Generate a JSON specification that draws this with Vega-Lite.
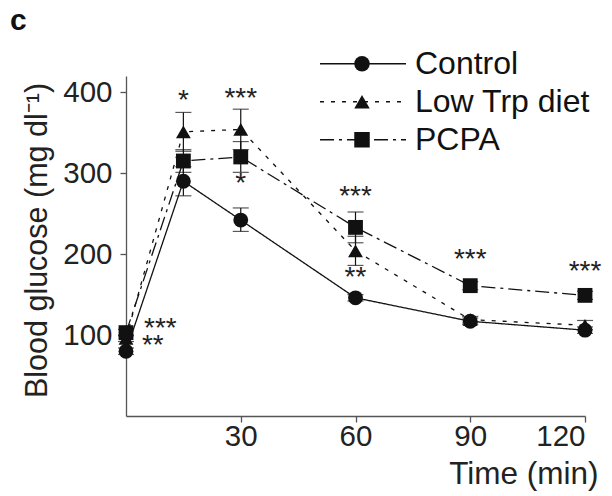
{
  "$schema": "https://vega.github.io/schema/vega-lite/v6.json",
  "width": 459,
  "height": 340,
  "autosize": {"type": "none"},
  "padding": {"left": 126, "top": 76, "right": 27, "bottom": 80},
  "background": "white",
  "config": {
    "view": {"stroke": null},
    "font": "Liberation Sans",
    "axis": {"grid": false, "domainColor": "#555", "tickColor": "#555", "domainWidth": 1.3, "tickWidth": 1.3, "tickSize": 6, "labelFontSize": 29.5, "titleFontSize": 30.5, "labelColor": "#222", "titleColor": "#222", "titleFontWeight": "normal", "labelFont": "Liberation Sans", "titleFont": "Liberation Sans"}
  },
  "title": {"text": "c", "anchor": "start", "frame": "group", "fontSize": 30, "fontWeight": "bold", "font": "Liberation Sans", "color": "#111", "dx": -116, "dy": -8},
  "datasets": {
    "glucose": [
      {"group": "Control", "t": 0, "value": 80, "lo": 76, "hi": 84},
      {"group": "Control", "t": 15, "value": 290, "lo": 272, "hi": 308},
      {"group": "Control", "t": 30, "value": 242, "lo": 228, "hi": 257},
      {"group": "Control", "t": 60, "value": 146, "lo": 142, "hi": 150},
      {"group": "Control", "t": 90, "value": 117, "lo": 113, "hi": 121},
      {"group": "Control", "t": 120, "value": 106, "lo": 102, "hi": 110},
      {"group": "Low Trp diet", "t": 0, "value": 96, "lo": 92, "hi": 100},
      {"group": "Low Trp diet", "t": 15, "value": 351, "lo": 327, "hi": 375},
      {"group": "Low Trp diet", "t": 30, "value": 354, "lo": 329, "hi": 379},
      {"group": "Low Trp diet", "t": 60, "value": 204, "lo": 186, "hi": 222},
      {"group": "Low Trp diet", "t": 90, "value": 119, "lo": 115, "hi": 123},
      {"group": "Low Trp diet", "t": 120, "value": 112, "lo": 107, "hi": 118},
      {"group": "PCPA", "t": 0, "value": 103, "lo": 99, "hi": 107},
      {"group": "PCPA", "t": 15, "value": 315, "lo": 301, "hi": 329},
      {"group": "PCPA", "t": 30, "value": 320, "lo": 301, "hi": 339},
      {"group": "PCPA", "t": 60, "value": 233, "lo": 214, "hi": 252},
      {"group": "PCPA", "t": 90, "value": 161, "lo": 156, "hi": 166},
      {"group": "PCPA", "t": 120, "value": 149, "lo": 144, "hi": 154}
    ],
    "stars": [
      {"t": 15, "value": 389, "label": "*"},
      {"t": 30, "value": 391, "label": "***"},
      {"t": 30, "value": 287, "label": "*"},
      {"t": 60, "value": 271, "label": "***"},
      {"t": 60, "value": 171, "label": "**"},
      {"t": 90, "value": 193, "label": "***"},
      {"t": 120, "value": 178, "label": "***"},
      {"t": 9, "value": 108, "label": "***"},
      {"t": 7, "value": 87, "label": "**"}
    ]
  },
  "layer": [
    {
      "data": {"name": "glucose"},
      "mark": {"type": "rule", "color": "#111", "strokeWidth": 1.2},
      "encoding": {
        "x": {"field": "t", "type": "quantitative", "scale": {"domain": [0, 120], "nice": false}, "axis": {"values": [30, 60, 90, 120], "title": "Time (min)", "titleFontSize": 31.5, "labelPadding": 0, "titleAnchor": "end", "titleAlign": "right", "titleX": 472, "titleY": 67, "titleBaseline": "alphabetic"}},
        "y": {"field": "lo", "type": "quantitative", "scale": {"domain": [0, 420], "nice": false}, "axis": {"values": [100, 200, 300, 400], "title": "Blood glucose (mg dl⁻¹)", "labelPadding": 8, "titleY": 164, "titlePadding": 10}},
        "y2": {"field": "hi"}
      }
    },
    {
      "data": {"name": "glucose"},
      "mark": {"type": "tick", "orient": "horizontal", "color": "#111", "size": 16, "thickness": 1.2},
      "encoding": {
        "x": {"field": "t", "type": "quantitative"},
        "y": {"field": "lo", "type": "quantitative"}
      }
    },
    {
      "data": {"name": "glucose"},
      "mark": {"type": "tick", "orient": "horizontal", "color": "#111", "size": 16, "thickness": 1.2},
      "encoding": {
        "x": {"field": "t", "type": "quantitative"},
        "y": {"field": "hi", "type": "quantitative"}
      }
    },
    {
      "data": {"name": "glucose"},
      "mark": {"type": "line", "color": "#111", "strokeWidth": 1.3},
      "encoding": {
        "x": {"field": "t", "type": "quantitative"},
        "y": {"field": "value", "type": "quantitative"},
        "strokeDash": {
          "field": "group", "type": "nominal",
          "scale": {"range": [[1, 0], [4, 7], [14, 5, 3, 5]]},
          "legend": {
            "title": null, "orient": "none", "legendX": 193, "legendY": -28,
            "labelFontSize": 32, "labelFont": "Liberation Sans", "labelColor": "#111", "labelOffset": 8, "labelLimit": 400,
            "symbolType": "stroke", "symbolSize": 7396, "symbolStrokeWidth": 1.3, "symbolStrokeColor": "#111",
            "clipHeight": 31.5, "rowPadding": 5
          }
        }
      }
    },
    {
      "data": {"name": "glucose"},
      "mark": {"type": "point", "filled": true, "color": "#111", "opacity": 1},
      "encoding": {
        "x": {"field": "t", "type": "quantitative"},
        "y": {"field": "value", "type": "quantitative"},
        "shape": {
          "field": "group", "type": "nominal",
          "scale": {"domain": ["Control", "Low Trp diet", "PCPA"], "range": ["circle", "triangle-up", "square"]},
          "legend": {
            "title": null, "orient": "none", "legendX": 220, "legendY": -28,
            "labelFontSize": 32, "labelFont": "Liberation Sans", "labelOpacity": 0, "labelLimit": 400,
            "symbolSize": 240, "symbolFillColor": "#111", "symbolStrokeColor": "#111", "symbolStrokeWidth": 0, "symbolOpacity": 1,
            "clipHeight": 31.5, "rowPadding": 5
          }
        },
        "size": {"value": 220}
      }
    },
    {
      "data": {"name": "stars"},
      "mark": {"type": "text", "fontSize": 28, "font": "Liberation Sans", "color": "#222", "baseline": "middle", "align": "center"},
      "encoding": {
        "x": {"field": "t", "type": "quantitative"},
        "y": {"field": "value", "type": "quantitative"},
        "text": {"field": "label"}
      }
    }
  ]
}
